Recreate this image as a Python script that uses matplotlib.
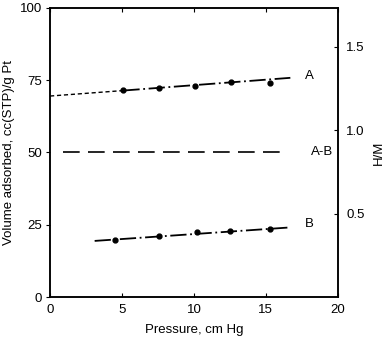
import matplotlib
matplotlib.use("Agg")
import matplotlib.pyplot as plt

plt.rcParams["font.family"] = ["Liberation Sans", "DejaVu Sans"]

# isotherm points, cm Hg vs cc(STP)/g Pt
a_x = [5.1, 7.6, 10.1, 12.6, 15.3]
a_y = [71.6, 72.3, 73.0, 74.3, 74.0]
b_x = [4.5, 7.6, 10.2, 12.5, 15.3]
b_y = [19.6, 21.2, 22.4, 22.9, 23.5]

# fitted lines
a_fit_x = [0.0, 5.1, 16.7]
a_fit_y = [69.5, 71.4, 75.8]
b_fit_x = [3.1, 16.5]
b_fit_y = [19.4, 24.0]
ab_x = [0.9, 16.1]
ab_y = [50.0, 50.0]

x_ticks = [0, 5, 10, 15, 20]
y_ticks = [0, 25, 50, 75, 100]
hm_ticks = [0.5, 1.0, 1.5]
hm_per_volume = 1 / 57.7

fs = 9.5
fig = plt.figure(figsize=(3.91, 3.41), dpi=100)
ax = fig.add_axes([0.128, 0.129, 0.736, 0.848])

ax.plot(a_fit_x[:2], a_fit_y[:2], color="black", lw=1.0, ls=(0, (3, 2)))
ax.plot(a_fit_x[1:], a_fit_y[1:], color="black", lw=1.3, ls=(0, (9, 2, 1, 2)))
ax.plot(a_x, a_y, "o", color="black", ms=3.5)

ax.plot(ab_x, ab_y, color="black", lw=1.2, ls=(0, (10, 5)))

ax.plot(b_fit_x, b_fit_y, color="black", lw=1.3, ls=(0, (9, 2, 1, 2)))
ax.plot(b_x, b_y, "o", color="black", ms=3.5)

ax.text(17.7, 76.5, "A", fontsize=fs, va="center")
ax.text(18.1, 50.0, "A-B", fontsize=fs, va="center")
ax.text(17.7, 25.3, "B", fontsize=fs, va="center")

ax.set_xlim(0, 20)
ax.set_ylim(0, 100)
ax.set_xticks(x_ticks)
ax.set_yticks(y_ticks)
ax.tick_params(axis="x", direction="in", length=3, labelsize=fs, top=True, pad=5)
ax.tick_params(axis="y", direction="out", length=3, labelsize=fs, pad=3)
ax.set_xlabel("Pressure, cm Hg", fontsize=fs, labelpad=6)
ax.set_ylabel("Volume adsorbed, cc(STP)/g Pt", fontsize=fs, labelpad=3)

ax2 = ax.twinx()
ax2.set_ylim(0, 100 * hm_per_volume)
ax2.set_yticks(hm_ticks)
ax2.set_yticklabels(["0.5", "1.0", "1.5"])
ax2.tick_params(axis="y", direction="in", length=3, labelsize=fs, pad=6)
ax2.set_ylabel("H/M", fontsize=fs, labelpad=6)

for a in (ax, ax2):
    for s in a.spines.values():
        s.set_linewidth(1.1)

fig.savefig("out.png", dpi=100)
